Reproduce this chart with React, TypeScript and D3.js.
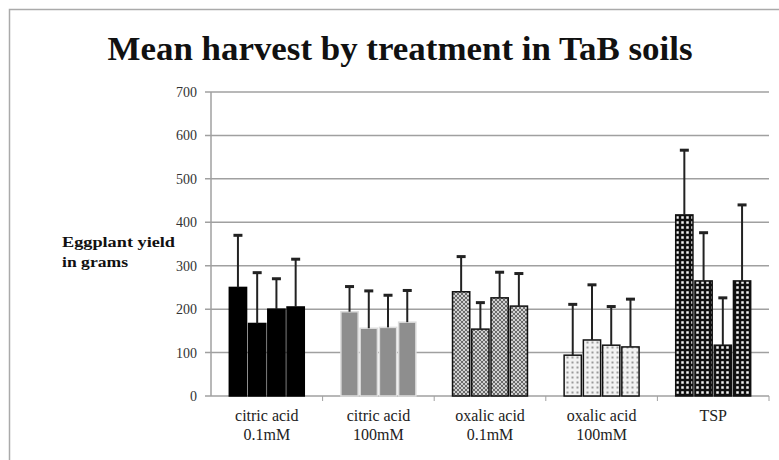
import React from "react";
import * as d3 from "d3";

const categories = ["citric acid|0.1mM", "citric acid|100mM", "oxalic acid|0.1mM", "oxalic acid|100mM", "TSP"];
const seriesKeys = ["s1", "s2", "s3", "s4"];
const means = [
  [250, 167, 200, 205],
  [194, 156, 158, 170],
  [240, 154, 226, 207],
  [94, 129, 117, 113],
  [417, 265, 117, 265],
];
const errTops = [
  [370, 284, 270, 315],
  [252, 242, 232, 243],
  [321, 215, 285, 282],
  [211, 256, 206, 223],
  [566, 376, 226, 440],
];
const yTicks = [0, 100, 200, 300, 400, 500, 600, 700];
const fills = ["#000000", "#8e8e8e", "url(#pHatch)", "url(#pDots)", "url(#pCheck)"];
const strokes = ["#000", "#dcdcdc", "#111", "#111", "#111"];

const W = 779, H = 460;
const left = 211, right = 769, top = 92, bottom = 396;

export default function App() {
  const x = d3.scaleBand<string>().domain(categories).range([left, right]).paddingInner(0).paddingOuter(0);
  const xs = d3.scaleBand<string>().domain(seriesKeys).range([0, x.bandwidth()]).paddingOuter(0.9).paddingInner(0);
  const y = d3.scaleLinear().domain([0, 700]).range([bottom, top]);
  const serif = "'Liberation Serif', 'DejaVu Serif', serif";
  return (
    <svg width={W} height={H} style={{ position: "absolute", left: 0, top: 0 }}>
      <defs>
        <pattern id="pHatch" width="4" height="4" patternUnits="userSpaceOnUse">
          <rect width="4" height="4" fill="#d0d0d0" />
          <path d="M0,0 L4,4 M4,0 L0,4" stroke="#6a6a6a" strokeWidth="1" />
        </pattern>
        <pattern id="pDots" width="5" height="5" patternUnits="userSpaceOnUse">
          <rect width="5" height="5" fill="#f2f2f2" />
          <rect x="1.5" y="1.5" width="2" height="2" fill="#9a9a9a" />
        </pattern>
        <pattern id="pCheck" width="5" height="5" patternUnits="userSpaceOnUse">
          <rect width="5" height="5" fill="#111" />
          <rect x="1.25" y="1.25" width="2.5" height="2.5" fill="#f4f4f4" />
        </pattern>
      </defs>
      <rect x={0} y={0} width={W} height={H} fill="#fff" />
      <path d={`M9.5,${H} V9.5 H${W}`} fill="none" stroke="#aaa" strokeWidth={1.5} />
      <text x={400} y={60} textAnchor="middle" fontFamily={serif} fontWeight="bold" fontSize={33} fill="#111"
        textLength={585} lengthAdjust="spacingAndGlyphs">Mean harvest by treatment in TaB soils</text>
      {yTicks.map((t) => (
        <g key={t}>
          <line x1={left - 6} x2={right} y1={y(t)} y2={y(t)} stroke="#a0a0a0" strokeWidth={1.5} />
          <text x={197} y={y(t) + 5} textAnchor="end" fontFamily={serif} fontSize={14} fill="#333">{t}</text>
        </g>
      ))}
      <line x1={left} x2={left} y1={top} y2={bottom} stroke="#a0a0a0" strokeWidth={1.5} />
      {categories.map((c, i) => (
        <line key={"t" + i} x1={(x(c) as number) + x.bandwidth()} x2={(x(c) as number) + x.bandwidth()} y1={bottom} y2={bottom + 5} stroke="#a0a0a0" strokeWidth={1} />
      ))}
      <text fontFamily={serif} fontWeight="bold" fontSize={15} fill="#111">
        <tspan x={62} y={247} textLength={113} lengthAdjust="spacingAndGlyphs">Eggplant yield</tspan>
        <tspan x={62} y={267} textLength={66} lengthAdjust="spacingAndGlyphs">in grams</tspan>
      </text>
      {categories.map((c, i) => (
        <g key={c}>
          {seriesKeys.map((s, j) => {
            const bx = (x(c) as number) + (xs(s) as number);
            const bw = xs.bandwidth();
            const v = means[i][j];
            const e = errTops[i][j];
            const cx = bx + bw / 2;
            return (
              <g key={s}>
                <rect x={bx + 1} y={y(v)} width={bw - 2} height={bottom - y(v)} fill={fills[i]} stroke={strokes[i]} strokeWidth={1.5} />
                <line x1={cx} x2={cx} y1={y(e)} y2={y(v)} stroke="#222" strokeWidth={2} />
                <line x1={cx - 4.5} x2={cx + 4.5} y1={y(e)} y2={y(e)} stroke="#222" strokeWidth={3} />
              </g>
            );
          })}
          {c.split("|").map((ln, k) => (
            <text key={k} x={(x(c) as number) + x.bandwidth() / 2} y={421 + k * 19} textAnchor="middle" fontFamily={serif} fontSize={16} fill="#222">{ln}</text>
          ))}
        </g>
      ))}
    </svg>
  );
}
